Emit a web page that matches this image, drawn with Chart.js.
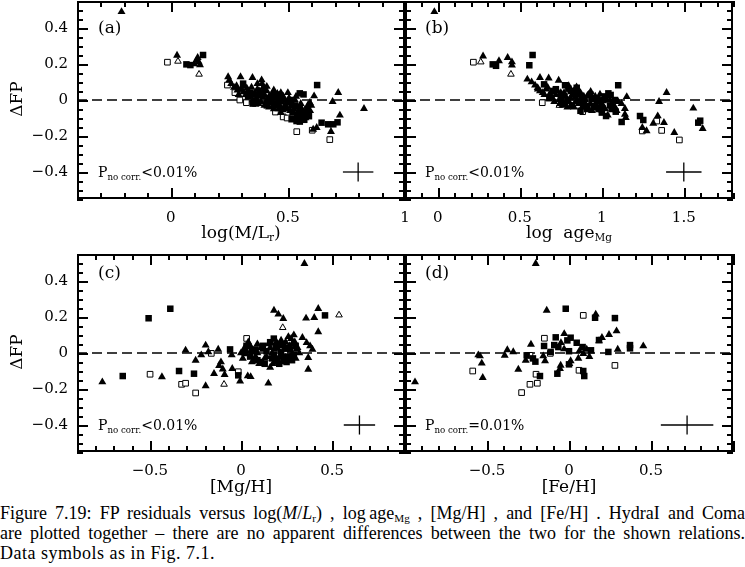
<!DOCTYPE html>
<html>
<head>
<meta charset="utf-8">
<script src="https://cdn.jsdelivr.net/npm/chart.js@4.4.0/dist/chart.umd.min.js"></script>
<style>
  body { margin: 0; background: #fff; }
  #page { position: relative; width: 745px; height: 567px; overflow: hidden; background: #fff; color: #000; font-family: "DejaVu Serif", serif; }
  canvas { position: absolute; }
  .txt { position: absolute; white-space: nowrap; line-height: 1; }
  .sub { font-size: 62%; vertical-align: -0.3em; }
  .lbl { font-size: 17px; }
  .prob { font-size: 14px; }
  .axt { font-size: 17px; transform: translateX(-50%); }
  .ytitle { font-size: 17px; transform: translate(-50%, -50%) rotate(-90deg); }
  .cap { position: absolute; left: 0; width: 745px; font-family: "Liberation Serif", serif; font-size: 18px; line-height: 20px; white-space: nowrap; }
  .just { text-align: justify; text-align-last: justify; white-space: normal; }
</style>
</head>
<body>
<div id="page">
  <canvas id="chart-a" width="411" height="251"></canvas>
  <canvas id="chart-b" width="411" height="251"></canvas>
  <canvas id="chart-c" width="411" height="251"></canvas>
  <canvas id="chart-d" width="411" height="251"></canvas>

  <div class="txt lbl" style="left:98px; top:19px;">(a)</div>
  <div class="txt lbl" style="left:425px; top:19px;">(b)</div>
  <div class="txt lbl" style="left:98px; top:264px;">(c)</div>
  <div class="txt lbl" style="left:425px; top:264px;">(d)</div>

  <div class="txt prob" style="left:98px; top:165px;">P<span class="sub">no corr.</span>&lt;0.01%</div>
  <div class="txt prob" style="left:425px; top:165px;">P<span class="sub">no corr.</span>&lt;0.01%</div>
  <div class="txt prob" style="left:98px; top:418px;">P<span class="sub">no corr.</span>&lt;0.01%</div>
  <div class="txt prob" style="left:425px; top:418px;">P<span class="sub">no corr.</span>=0.01%</div>

  <div class="txt ytitle" style="left:16px; top:99px;">ΔFP</div>
  <div class="txt ytitle" style="left:16px; top:352px;">ΔFP</div>

  <div class="txt axt" style="left:241px; top:224px;">log(M/L<span class="sub">r</span>)</div>
  <div class="txt axt" style="left:569px; top:224px;">log&nbsp;&nbsp;age<span class="sub">Mg</span></div>
  <div class="txt axt" style="left:241px; top:478px;">[Mg/H]</div>
  <div class="txt axt" style="left:569px; top:478px;">[Fe/H]</div>

  <div class="cap just" style="top:503px;">Figure 7.19: FP residuals versus log(<i>M</i>/<i>L</i><span class="sub">r</span>) , log&thinsp;age<span class="sub">Mg</span> , [Mg/H] , and [Fe/H] . HydraI and Coma</div>
  <div class="cap just" style="top:523px;">are plotted together – there are no apparent differences between the two for the shown relations.</div>
  <div class="cap" style="top:543px; letter-spacing:0.5px;">Data symbols as in Fig. 7.1.</div>
</div>

<script>
// tick labels
const yTickLabels = [-0.4, -0.2, 0, 0.2, 0.4];
const xTickLabelsA = [0, 0.5, 1];
const xTickLabelsB = [0, 0.5, 1, 1.5];
const xTickLabelsC = [-0.5, 0, 0.5];
const xTickLabelsD = [-0.5, 0, 0.5];

// error crosses: [x, y, halfWidthX, halfWidthY]
const errA = [0.8, -0.4, 0.065, 0.053];
const errB = [1.5, -0.4, 0.108, 0.053];
const errC = [0.65, -0.4, 0.086, 0.053];
const errD = [0.72, -0.4, 0.16, 0.053];

// (a) log(M/Lr) vs dFP
const aFilledTri = [[-0.21,0.49],[0.027,0.248],[0.10,0.20],[0.11,0.22],[0.115,0.235],[0.12,0.21],[0.125,0.195],[0.245,0.128],[0.25,0.11],[0.258,0.09],[0.27,0.07],[0.281,0.078],[0.285,0.055],[0.29,0.03],[0.298,0.128],[0.30,0.06],[0.31,0.045],[0.315,0.08],[0.32,0.03],[0.325,0.065],[0.33,0.05],[0.335,0.04],[0.34,0.02],[0.345,0.07],[0.349,0.124],[0.35,0.0],[0.355,0.03],[0.36,0.04],[0.365,0.01],[0.37,0.06],[0.37,0.09],[0.375,-0.02],[0.38,0.02],[0.38,0.05],[0.385,-0.01],[0.388,0.111],[0.39,0.09],[0.395,0.07],[0.395,0.015],[0.40,0.03],[0.40,-0.03],[0.405,-0.01],[0.41,0.05],[0.41,0.075],[0.415,0.0],[0.42,-0.04],[0.42,0.02],[0.425,-0.015],[0.43,0.02],[0.435,0.04],[0.44,0.055],[0.44,-0.05],[0.445,-0.02],[0.45,0.01],[0.455,0.035],[0.46,-0.05],[0.46,0.0],[0.465,-0.03],[0.47,0.04],[0.47,-0.07],[0.475,-0.01],[0.48,0.02],[0.485,0.0],[0.49,-0.03],[0.495,-0.05],[0.50,0.04],[0.505,0.01],[0.51,-0.06],[0.515,-0.035],[0.52,-0.02],[0.525,-0.05],[0.53,0.0],[0.535,0.02],[0.54,-0.04],[0.545,-0.06],[0.55,-0.08],[0.555,-0.02],[0.56,-0.05],[0.565,-0.07],[0.575,-0.1],[0.58,-0.085],[0.585,-0.03],[0.594,-0.015],[0.595,-0.06],[0.60,-0.03],[0.612,0.022],[0.608,-0.163],[0.623,-0.154],[0.684,-0.176],[0.691,-0.009],[0.715,0.041],[0.722,-0.085],[0.825,-0.048]];
const aFilledSq = [[0.067,0.198],[0.084,0.194],[0.138,0.25],[0.309,0.091],[0.33,0.02],[0.34,0.04],[0.35,-0.02],[0.36,-0.01],[0.37,0.03],[0.39,0.03],[0.40,0.06],[0.41,-0.03],[0.42,0.01],[0.43,0.0],[0.44,-0.03],[0.45,0.03],[0.46,-0.02],[0.47,0.01],[0.48,-0.05],[0.49,-0.04],[0.50,-0.01],[0.51,0.0],[0.516,-0.107],[0.52,-0.07],[0.53,-0.03],[0.537,-0.117],[0.54,-0.09],[0.55,-0.05],[0.551,-0.12],[0.551,0.037],[0.558,-0.098],[0.567,0.031],[0.57,-0.11],[0.573,-0.08],[0.583,-0.052],[0.59,-0.09],[0.625,0.083],[0.644,-0.126],[0.672,-0.135],[0.694,-0.135],[0.712,-0.124]];
const aOpenSq = [[-0.014,0.21],[0.242,0.083],[0.274,0.041],[0.295,0.0],[0.323,-0.015],[0.447,-0.067],[0.48,-0.094],[0.497,-0.1],[0.538,-0.176],[0.604,-0.168],[0.679,-0.22]];
const aOpenTri = [[0.031,0.215],[0.121,0.143],[0.363,-0.024]];

// (b) log age_Mg vs dFP
const bFilledTri = [[-0.021,0.49],[0.276,0.244],[0.373,0.217],[0.426,0.235],[0.452,0.211],[0.452,0.193],[0.546,0.115],[0.572,0.10],[0.593,0.082],[0.609,0.068],[0.61,0.06],[0.623,0.124],[0.623,0.05],[0.64,0.04],[0.65,0.03],[0.66,0.06],[0.67,0.07],[0.676,0.121],[0.68,0.03],[0.69,0.02],[0.70,0.045],[0.70,0.01],[0.71,-0.01],[0.72,0.03],[0.73,0.05],[0.737,0.109],[0.74,0.0],[0.745,-0.02],[0.75,0.04],[0.76,-0.03],[0.77,0.04],[0.78,0.02],[0.79,-0.04],[0.798,0.078],[0.80,-0.01],[0.81,0.01],[0.82,0.03],[0.83,-0.04],[0.83,0.05],[0.84,-0.01],[0.846,0.072],[0.85,0.0],[0.86,-0.02],[0.86,0.03],[0.87,0.04],[0.88,0.01],[0.88,-0.04],[0.89,0.02],[0.90,-0.03],[0.90,0.0],[0.91,0.02],[0.92,-0.05],[0.92,0.03],[0.93,-0.02],[0.932,0.046],[0.94,-0.06],[0.95,0.0],[0.96,-0.04],[0.96,0.02],[0.97,-0.03],[0.98,0.01],[0.989,0.031],[0.99,-0.01],[1.0,-0.02],[1.01,-0.04],[1.02,-0.05],[1.03,0.0],[1.036,-0.085],[1.05,0.0],[1.06,-0.02],[1.07,-0.03],[1.08,-0.04],[1.09,-0.06],[1.10,-0.01],[1.12,-0.02],[1.141,-0.048],[1.141,-0.08],[1.146,-0.098],[1.152,0.018],[1.247,-0.154],[1.273,-0.172],[1.314,-0.13],[1.341,-0.089],[1.349,-0.009],[1.379,-0.126],[1.395,0.041],[1.442,-0.181],[1.558,-0.046],[1.615,-0.159]];
const bFilledSq = [[0.335,0.198],[0.355,0.19],[0.558,0.193],[0.578,0.25],[0.648,0.087],[0.68,0.01],[0.70,0.05],[0.72,0.06],[0.75,0.01],[0.77,-0.02],[0.776,0.082],[0.79,0.0],[0.796,0.063],[0.81,0.05],[0.82,-0.03],[0.84,0.02],[0.847,0.068],[0.85,0.04],[0.87,-0.06],[0.88,0.0],[0.89,-0.01],[0.898,-0.033],[0.91,-0.05],[0.93,0.03],[0.94,0.01],[0.95,-0.04],[0.959,-0.033],[0.97,0.0],[0.98,-0.05],[0.999,-0.052],[1.0,-0.07],[1.01,0.0],[1.02,0.02],[1.026,-0.089],[1.04,0.037],[1.05,-0.03],[1.054,0.028],[1.06,-0.05],[1.08,0.0],[1.085,-0.065],[1.10,0.082],[1.121,-0.122],[1.233,-0.089],[1.253,-0.111],[1.588,-0.126],[1.60,-0.115]];
const bOpenSq = [[0.217,0.21],[0.637,-0.015],[0.883,-0.065],[1.247,-0.172],[1.335,-0.117],[1.365,-0.169],[1.473,-0.222]];
const bOpenTri = [[0.262,0.211],[0.446,0.143],[0.741,-0.03]];

// (c) [Mg/H] vs dFP
const cFilledTri = [[-0.761,-0.161],[-0.434,-0.133],[-0.304,0.015],[-0.249,-0.041],[-0.218,-0.011],[-0.194,0.043],[-0.194,-0.183],[-0.179,0.006],[-0.148,-0.115],[-0.125,0.02],[-0.12,-0.07],[-0.11,-0.05],[-0.10,-0.09],[-0.09,-0.12],[-0.051,-0.011],[-0.048,-0.087],[-0.005,-0.156],[0.0,0.0],[0.01,-0.03],[0.02,0.03],[0.03,0.01],[0.037,-0.128],[0.04,0.06],[0.05,0.04],[0.053,-0.132],[0.06,0.02],[0.06,-0.05],[0.07,-0.04],[0.08,-0.02],[0.09,0.0],[0.09,0.05],[0.10,-0.06],[0.11,0.03],[0.12,0.02],[0.12,-0.06],[0.13,-0.03],[0.14,-0.02],[0.15,-0.168],[0.15,0.05],[0.16,-0.08],[0.16,0.03],[0.17,0.0],[0.175,-0.06],[0.181,0.237],[0.185,0.02],[0.19,-0.05],[0.195,0.06],[0.20,0.03],[0.205,0.215],[0.21,-0.02],[0.215,0.04],[0.22,0.07],[0.225,-0.05],[0.232,0.191],[0.235,0.02],[0.24,-0.04],[0.245,0.06],[0.25,0.02],[0.255,-0.03],[0.26,0.09],[0.265,0.04],[0.27,-0.02],[0.275,0.08],[0.28,0.05],[0.285,-0.01],[0.29,0.10],[0.295,0.06],[0.30,-0.03],[0.305,0.02],[0.31,0.03],[0.32,0.0],[0.337,0.085],[0.348,0.496],[0.357,0.193],[0.36,0.057],[0.369,-0.026],[0.369,-0.091],[0.379,0.039],[0.392,0.02],[0.402,0.196],[0.424,0.246],[0.424,0.117]];
const cFilledSq = [[-0.649,-0.128],[-0.507,0.193],[-0.388,0.246],[-0.34,-0.1],[-0.258,-0.115],[-0.06,0.02],[-0.015,-0.124],[0.02,0.0],[0.03,0.04],[0.05,-0.02],[0.06,0.01],[0.08,0.02],[0.09,-0.04],[0.11,-0.05],[0.12,0.04],[0.13,-0.06],[0.14,0.01],[0.16,0.06],[0.17,-0.03],[0.18,0.08],[0.18,-0.01],[0.19,0.04],[0.20,-0.04],[0.21,-0.06],[0.21,0.05],[0.22,0.0],[0.23,0.05],[0.23,-0.02],[0.24,0.03],[0.25,-0.05],[0.26,-0.02],[0.27,0.02],[0.28,-0.04],[0.29,-0.01],[0.30,0.04],[0.461,0.209]];
const cOpenSq = [[-0.499,-0.118],[-0.326,-0.174],[-0.304,-0.168],[-0.249,-0.222],[-0.163,-0.002],[-0.015,-0.104],[0.031,0.081]];
const cOpenTri = [[-0.093,-0.174],[0.229,0.141],[0.538,0.211]];

// (d) [Fe/H] vs dFP
const dFilledTri = [[-0.939,-0.161],[-0.553,-0.011],[-0.543,-0.017],[-0.532,-0.057],[-0.526,-0.137],[-0.392,-0.013],[-0.376,0.017],[-0.34,0.006],[-0.309,-0.091],[-0.264,-0.041],[-0.232,0.048],[-0.203,0.496],[-0.157,-0.017],[-0.146,-0.044],[-0.136,0.237],[-0.049,0.057],[-0.029,0.107],[-0.03,0.022],[-0.051,-0.069],[-0.055,-0.087],[0.002,-0.059],[0.01,-0.044],[0.057,-0.03],[0.063,0.011],[0.087,-0.004],[0.108,0.02],[0.124,-0.02],[0.163,0.215],[0.183,0.067],[0.201,0.085],[0.244,0.102],[0.29,0.122],[0.297,0.02],[0.453,0.039]];
const dFilledSq = [[-0.258,-0.013],[-0.22,-0.03],[-0.205,-0.048],[-0.177,-0.128],[-0.152,0.039],[-0.112,0.006],[-0.09,0.044],[-0.081,0.087],[-0.071,-0.115],[-0.065,0.033],[-0.02,0.246],[-0.01,0.07],[0.0,0.01],[0.0,-0.063],[0.01,0.085],[0.047,0.057],[0.083,0.033],[0.087,-0.1],[0.093,-0.128],[0.134,0.015],[0.159,0.196],[0.183,0.072],[0.24,0.006],[0.28,0.194],[0.372,0.044],[0.372,0.026]];
const dOpenSq = [[-0.587,-0.1],[-0.289,-0.22],[-0.238,-0.174],[-0.238,-0.013],[-0.201,-0.118],[-0.193,-0.168],[-0.15,0.082],[-0.114,-0.002],[0.061,-0.096],[0.087,0.209],[0.28,-0.069]];
const dOpenTri = [];

const PANELS = [
  { canvas: "chart-a", left: 0,   top: -4,  xMin: -0.4, xMax: 1.0, xLabels: xTickLabelsA, showY: true,
    series: [aFilledTri, aFilledSq, aOpenSq, aOpenTri], err: errA },
  { canvas: "chart-b", left: 328, top: -4,  xMin: -0.2, xMax: 1.8, xLabels: xTickLabelsB, showY: false,
    series: [bFilledTri, bFilledSq, bOpenSq, bOpenTri], err: errB },
  { canvas: "chart-c", left: 0,   top: 249, xMin: -0.9, xMax: 0.9, xLabels: xTickLabelsC, showY: true,
    series: [cFilledTri, cFilledSq, cOpenSq, cOpenTri], err: errC },
  { canvas: "chart-d", left: 328, top: 249, xMin: -1.0, xMax: 1.0, xLabels: xTickLabelsD, showY: false,
    series: [dFilledTri, dFilledSq, dOpenSq, dOpenTri], err: errD },
];

const TICK_FONT = { family: "DejaVu Serif", size: 15 };

function round2(v) {
  return Math.round(v * 100) / 100;
}

function fmt(v) {
  const r = round2(v);
  if (r === 0) return "0";
  return (r < 0 ? "\u2212" : "") + String(Math.abs(r));
}

function isMultiple(v, step) {
  const q = v / step;
  return Math.abs(q - Math.round(q)) < 1e-6;
}

// no extra room for edge labels: the plot box is placed by hand
function fixBox(size, prop) {
  return (s) => {
    s[prop] = size;
    s.paddingLeft = 0;
    s.paddingRight = 0;
    s.paddingTop = 0;
    s.paddingBottom = 0;
  };
}

// every tick value between min and max
function tickValues(scale, step) {
  const out = [];
  const n = Math.round((scale.max - scale.min) / step);
  for (let i = 0; i <= n; i++) out.push(scale.min + i * step);
  return out;
}

// frame box plus inward major/minor ticks on all four sides
const LINE_W = 2;
const frameTicks = {
  id: "frameTicks",
  afterDraw(chart) {
    const { ctx, chartArea: area } = chart;
    const xs = chart.scales.x;
    const ys = chart.scales.y;
    const L = Math.round(area.left);
    const R = Math.round(area.right) - LINE_W;
    const T = Math.round(area.top);
    const B = Math.round(area.bottom) - LINE_W;
    ctx.save();
    ctx.fillStyle = "#000";
    tickValues(xs, 0.1).forEach((v) => {
      const px = Math.round(xs.getPixelForValue(v));
      const len = isMultiple(v, 0.5) ? 11 : 6;
      ctx.fillRect(px, B - len + LINE_W, LINE_W, len);
      ctx.fillRect(px, T, LINE_W, len);
    });
    tickValues(ys, 0.05).forEach((v) => {
      const py = Math.round(ys.getPixelForValue(v));
      const len = isMultiple(v, 0.2) ? 11 : 6;
      ctx.fillRect(L, py, len, LINE_W);
      ctx.fillRect(R - len + LINE_W, py, len, LINE_W);
    });
    ctx.fillRect(L, T, R - L + LINE_W, LINE_W);
    ctx.fillRect(L, B, R - L + LINE_W, LINE_W);
    ctx.fillRect(L, T, LINE_W, B - T + LINE_W);
    ctx.fillRect(R, T, LINE_W, B - T + LINE_W);
    ctx.restore();
  }
};

function toXY(pairs) {
  return pairs.map((p) => ({ x: p[0], y: p[1] }));
}

function renderPanel(panel) {
  const el = document.getElementById(panel.canvas);
  el.style.left = panel.left + "px";
  el.style.top = panel.top + "px";

  const [filledTri, filledSq, openSq, openTri] = panel.series;
  const [ex, ey, edx, edy] = panel.err;

  new Chart(el, {
    type: "scatter",
    data: {
      datasets: [
        { data: toXY(filledTri), pointStyle: "triangle", pointRadius: 4.6, backgroundColor: "#000", borderColor: "#000", borderWidth: 0 },
        { data: toXY(filledSq), pointStyle: "rect", pointRadius: 4.6, backgroundColor: "#000", borderColor: "#000", borderWidth: 0 },
        { data: toXY(openTri), pointStyle: "triangle", pointRadius: 3.8, backgroundColor: "#fff", borderColor: "#000", borderWidth: 1 },
        { data: toXY(openSq), pointStyle: "rect", pointRadius: 4.0, backgroundColor: "#fff", borderColor: "#000", borderWidth: 1 },
        { data: [{ x: panel.xMin, y: 0 }, { x: panel.xMax, y: 0 }], showLine: true, pointRadius: 0,
          borderColor: "#000", borderWidth: 1.4, borderDash: [10, 5] },
        { data: [{ x: ex - edx, y: ey }, { x: ex + edx, y: ey }], showLine: true, pointRadius: 0,
          borderColor: "#000", borderWidth: 1.3 },
        { data: [{ x: ex, y: ey - edy }, { x: ex, y: ey + edy }], showLine: true, pointRadius: 0,
          borderColor: "#000", borderWidth: 1.3 },
      ]
    },
    options: {
      responsive: false,
      animation: false,
      devicePixelRatio: 1,
      events: [],
      layout: { padding: { left: 0, right: 6, top: 4, bottom: 0 } },
      plugins: { legend: { display: false }, tooltip: { enabled: false } },
      scales: {
        x: {
          type: "linear",
          min: panel.xMin,
          max: panel.xMax,
          grid: { display: false, drawTicks: false },
          border: { display: false },
          ticks: {
            stepSize: 0.1,
            autoSkip: false,
            maxRotation: 0,
            padding: 10,
            color: "#000",
            font: TICK_FONT,
            callback: (v) => panel.xLabels.some((l) => Math.abs(l - v) < 1e-6) ? fmt(v) : ""
          },
          afterFit: fixBox(48, "height")
        },
        y: {
          type: "linear",
          min: -0.55,
          max: 0.55,
          grid: { display: false, drawTicks: false },
          border: { display: false },
          ticks: {
            stepSize: 0.05,
            autoSkip: false,
            padding: 9,
            color: "#000",
            font: TICK_FONT,
            callback: (v) => panel.showY && yTickLabels.some((l) => Math.abs(l - v) < 1e-6) ? fmt(v) : ""
          },
          afterFit: fixBox(77, "width")
        }
      }
    },
    plugins: [frameTicks]
  });
}

PANELS.forEach(renderPanel);
</script>
</body>
</html>
